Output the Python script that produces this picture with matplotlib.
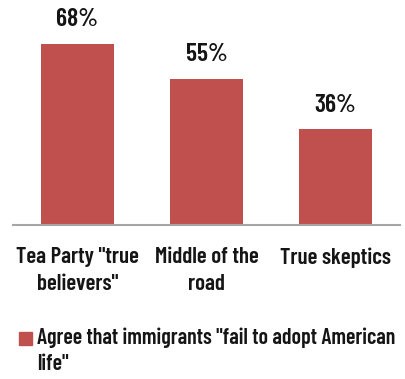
import matplotlib
matplotlib.use("Agg")
import matplotlib.pyplot as plt
from matplotlib.patches import Patch, Rectangle
from matplotlib.legend_handler import HandlerPatch

categories = ['Tea Party "true\nbelievers"', 'Middle of the\nroad', 'True skeptics']
values = [68, 55, 36]
series_name = 'Agree that immigrants "fail to adopt American\nlife"'

bar_color = '#C0504D'
axis_color = '#A6A6A6'
text_color = '#151515'

plt.rcParams['font.family'] = ['Barlow Condensed', 'Asap Condensed',
                               'Roboto Condensed', 'DejaVu Sans']
plt.rcParams['font.weight'] = 'semibold'
plt.rcParams['font.size'] = 16.5


def square_on_first_line(legend, orig_handle, xdescent, ydescent, width, height, fontsize):
    # lift the swatch so it sits beside the first line of a wrapped label
    return Rectangle((-xdescent, -ydescent + 0.56 * fontsize), width, height)


fig = plt.figure(figsize=(4.06, 3.79), dpi=100)
ax = fig.add_axes([13 / 406, 154 / 379, 387 / 406, 213 / 379])

x = range(len(categories))
bars = ax.bar(x, values, width=0.567, color=bar_color)
ax.bar_label(bars, labels=[f'{v}%' for v in values], padding=9,
             fontsize=18.5, color=text_color)

ax.set_xlim(-0.5, 2.5)
ax.set_ylim(0, 80)
ax.set_xticks(list(x))
ax.set_xticklabels(categories, color=text_color, linespacing=1.4)
ax.tick_params(axis='x', length=0, pad=16)
ax.set_yticks([])
for side in ['top', 'right', 'left']:
    ax.spines[side].set_visible(False)
ax.spines['bottom'].set_color(axis_color)
ax.spines['bottom'].set_linewidth(1.5)

leg = fig.legend(handles=[Patch(color=bar_color, label=series_name)],
                 handler_map={Patch: HandlerPatch(patch_func=square_on_first_line)},
                 loc='upper left', bbox_to_anchor=(19 / 406, 1 - 327 / 379),
                 frameon=False, fontsize=15.8, handlelength=0.6, handleheight=0.57,
                 handletextpad=0.22, borderpad=0, borderaxespad=0)
for t in leg.get_texts():
    t.set_linespacing(1.4)
    t.set_color(text_color)

fig.savefig('out.png', dpi=100)
